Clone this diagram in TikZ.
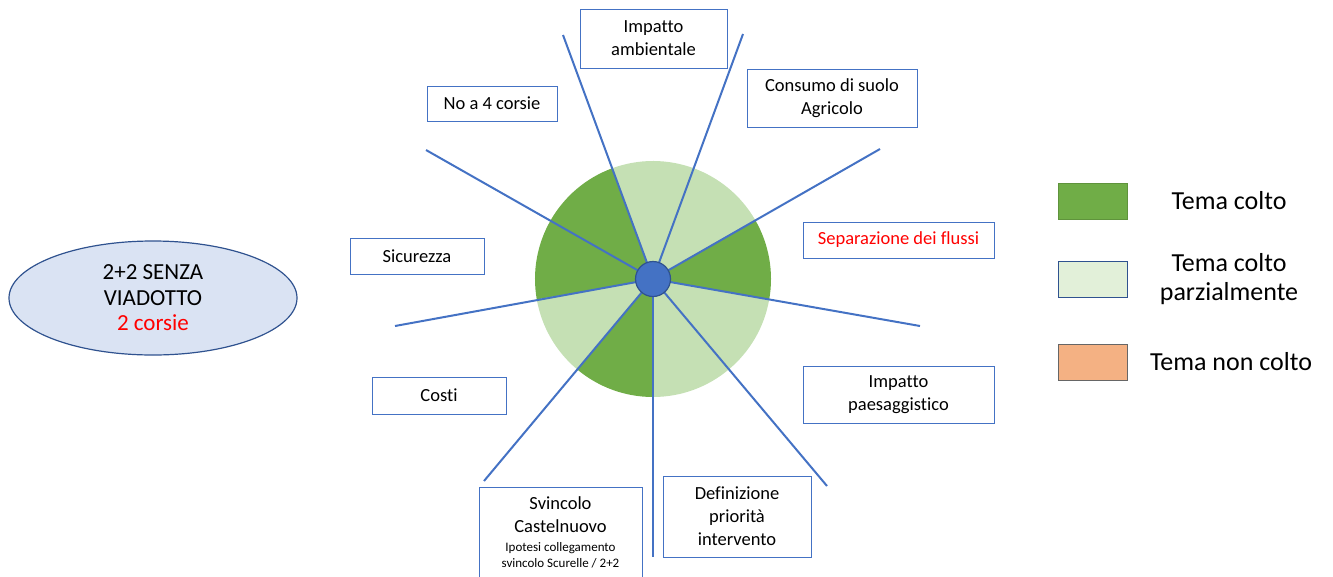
\documentclass[tikz,border=0pt]{standalone}
\usepackage{fontspec}
\setmainfont{Carlito}[Ligatures=NoCommon]
\usetikzlibrary{shapes.geometric,positioning}

\definecolor{darkgr}{HTML}{70AD47}
\definecolor{lightgr}{HTML}{C5E0B4}
\definecolor{spokeblue}{HTML}{4472C4}
\definecolor{hubline}{HTML}{2F528F}
\definecolor{ovalfill}{HTML}{DAE3F3}
\definecolor{paleleg}{HTML}{E2F0D9}
\definecolor{orangeleg}{HTML}{F4B183}
\definecolor{redtxt}{HTML}{FF0000}

\begin{document}
\begin{tikzpicture}[x=1pt,y=1pt,node distance=2cm,on grid,
    topic/.style={draw=spokeblue, line width=0.9pt, fill=white, align=center,
      inner sep=2pt, font=\fontsize{18.5}{23}\selectfont},
    spoke/.style={draw=spokeblue, line width=2pt},
    swatch/.style={minimum width=69pt, minimum height=36pt, inner sep=0pt, line width=1pt},
    legtext/.style={align=center, font=\fontsize{26}{29}\selectfont}]
  \useasboundingbox (0,0) rectangle (1333,-576);
  \coordinate (c) at (653,-279);
  % the pie
  \fill[darkgr]  (c) -- ++(110:118) arc[start angle=110, end angle=190, radius=118] -- cycle;
  \fill[lightgr] (c) -- ++(190:118) arc[start angle=190, end angle=230, radius=118] -- cycle;
  \fill[darkgr]  (c) -- ++(230:118) arc[start angle=230, end angle=270, radius=118] -- cycle;
  \fill[lightgr] (c) -- ++(270:118) arc[start angle=270, end angle=350, radius=118] -- cycle;
  \fill[darkgr]  (c) -- ++(350:118) arc[start angle=350, end angle=390, radius=118] -- cycle;
  \fill[lightgr] (c) -- ++(30:118) arc[start angle=30, end angle=110, radius=118] -- cycle;
  % spoke ends
  \coordinate (s1) at (563,-35);
  \coordinate (s2) at (743,-34);
  \coordinate (s3) at (426,-150);
  \coordinate (s4) at (880,-149);
  \coordinate (s5) at (395,-326);
  \coordinate (s6) at (920,-326);
  \coordinate (s7) at (484,-481);
  \coordinate (s8) at (653,-557);
  \coordinate (s9) at (827,-486);
  \foreach \i in {1,...,9}
    \draw[spoke] (c) -- (s\i);
  \node[circle, fill=spokeblue, draw=hubline, line width=1.2pt, minimum size=35pt, inner sep=0pt] (hub) at (c) {};

  % themes
  \node[topic, minimum width=147pt, minimum height=59pt] (ambiente) at (653.5,-38.5) {Impatto\\ambientale};
  \node[topic, minimum width=170pt, minimum height=58pt] (suolo) at (832,-98) {Consumo di suolo\\Agricolo};
  \node[topic, minimum width=130pt, minimum height=35pt] (corsie) at (492,-103.5) {No a 4 corsie};
  \node[topic, minimum width=134pt, minimum height=36pt] (sicurezza) at (417,-256) {Sicurezza};
  \node[topic, minimum width=191pt, minimum height=36pt, text=redtxt] (flussi) at (898.5,-240) {Separazione dei flussi};
  \node[topic, minimum width=134pt, minimum height=37pt] (costi) at (439,-395.5) {Costi};
  \node[topic, minimum width=191pt, minimum height=57pt] (paesaggio) at (898.5,-394.5) {Impatto\\paesaggistico};
  \node[topic, minimum width=163pt, minimum height=90pt] (svincolo) at (560.5,-532) {Svincolo\\Castelnuovo\\[-4pt]
    {\fontsize{13}{15}\selectfont Ipotesi collegamento}\\[-7pt]{\fontsize{13}{15}\selectfont svincolo Scurelle / 2+2}};
  \node[topic, minimum width=148pt, minimum height=81pt] (priorita) at (737,-516.5) {Definizione\\priorità\\intervento};

  \node[ellipse, draw=hubline, fill=ovalfill, line width=1.2pt, minimum width=288pt, minimum height=114pt,
    align=center, font=\fontsize{23}{25.5}\selectfont] (opzione) at (153,-298) {2+2 SENZA\\VIADOTTO\\\textcolor{redtxt}{2 corsie}};

  % legend
  \node[swatch, fill=darkgr, draw=darkgr!85!black] (colto) at (1093,-201) {};
  \node[swatch, fill=paleleg, draw=hubline] (parziale) [below=78pt of colto] {};
  \node[swatch, fill=orangeleg, draw=black!60] (noncolto) [below=83pt of parziale] {};
  \node[legtext] (coltolab) [right=136pt of colto] {Tema colto};
  \node[legtext] (parzialelab) [right=136pt of parziale] {Tema colto\\parzialmente};
  \node[legtext] (noncoltolab) [right=138pt of noncolto] {Tema non colto};
\end{tikzpicture}
\end{document}
